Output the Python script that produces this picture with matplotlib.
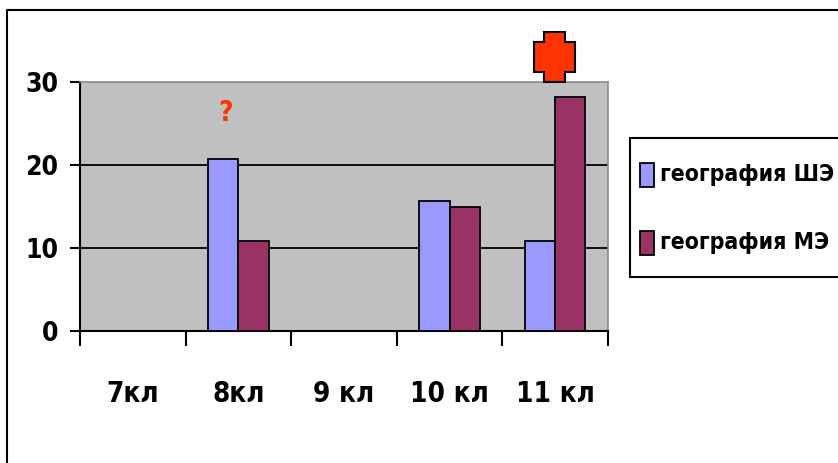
import matplotlib
matplotlib.use("Agg")
import matplotlib.pyplot as plt
from matplotlib.patches import Polygon, Rectangle
from matplotlib.lines import Line2D
import numpy as np

categories = ["7кл", "8кл", "9 кл", "10 кл", "11 кл"]
series_names = ["география ШЭ", "география МЭ"]
values_she = [0, 20.7, 0, 15.7, 10.9]
values_me = [0, 10.9, 0, 14.9, 28.2]
colors = ["#9999FF", "#993366"]
yticks = [0, 10, 20, 30]

W, H = 838, 463
fig = plt.figure(figsize=(W / 100, H / 100), dpi=100)
fam = ["DejaVu Sans Condensed", "Liberation Sans Narrow", "DejaVu Sans"]
plt.rcParams["font.stretch"] = "condensed"

def fx(px):
    return px / W

def fy(py):
    return 1 - py / H

# Figure border (left and top visible)
fig.add_artist(Line2D([fx(7), fx(7), fx(838)], [fy(463), fy(10), fy(10)],
                      transform=fig.transFigure, color="black", lw=1.5))

left, right, top, bottom = 80, 608, 82, 331
ax = fig.add_axes([fx(left), fy(bottom), fx(right - left), (bottom - top) / H])
ax.set_facecolor("#C0C0C0")
ax.set_xlim(0, len(categories))
ax.set_ylim(0, 30)

for s in ["top", "right"]:
    ax.spines[s].set_color("#8C8C8C")
    ax.spines[s].set_linewidth(1.2)
for s in ["left", "bottom"]:
    ax.spines[s].set_color("black")
    ax.spines[s].set_linewidth(1.5)

for yv in [10, 20]:
    ax.axhline(yv, color="black", lw=1.3, zorder=1)

x = np.arange(len(categories)) + 0.5
bw = 1 / 3.5
ax.bar(x - bw / 2, values_she, width=bw, color=colors[0], edgecolor="black",
       linewidth=1.3, zorder=3, label=series_names[0])
ax.bar(x + bw / 2, values_me, width=bw, color=colors[1], edgecolor="black",
       linewidth=1.3, zorder=3, label=series_names[1])

ax.set_yticks(yticks)
ax.set_yticklabels([str(v) for v in yticks], fontsize=19, fontweight="bold",
                   family=fam, fontstretch="condensed")
ax.tick_params(axis="y", direction="out", length=7, width=1.5, pad=8.5)

ax.set_xticks(np.arange(len(categories) + 1))
ax.set_xticklabels([])
ax.tick_params(axis="x", which="major", direction="out", length=11, width=1.5)
ax.set_xticks(x, minor=True)
ax.set_xticklabels(categories, minor=True, fontsize=20, fontweight="bold",
                   family=fam, fontstretch="condensed")
ax.tick_params(axis="x", which="minor", length=0, pad=35)

# Red question mark
fig.text(fx(225), fy(113), "?", color="#FF3300", fontsize=20,
         fontweight="bold", ha="center", va="center", family=fam)

# Red cross
x0, x1, x2, x3 = 534, 544, 565, 575
y0, y1, y2, y3 = 32, 42, 72, 82
pts = [(x1, y0), (x2, y0), (x2, y1), (x3, y1), (x3, y2), (x2, y2),
       (x2, y3), (x1, y3), (x1, y2), (x0, y2), (x0, y1), (x1, y1)]
fig.add_artist(Polygon([(fx(a), fy(b)) for a, b in pts], closed=True,
                       transform=fig.transFigure, facecolor="#FF3300",
                       edgecolor="black", lw=1.5))

# Legend box
fig.add_artist(Rectangle((fx(630), fy(277)), fx(838 - 630 + 10), (277 - 138) / H,
                         transform=fig.transFigure, facecolor="white",
                         edgecolor="black", lw=1.5))
for i, (name, c) in enumerate(zip(series_names, colors)):
    cy = [175, 243][i]
    fig.add_artist(Rectangle((fx(640), fy(cy + 12)), fx(14), 24 / H,
                             transform=fig.transFigure, facecolor=c,
                             edgecolor="black", lw=1.3))
    fig.text(fx(660), fy(cy), name, fontsize=16.5, fontweight="bold",
             ha="left", va="center", family=fam, fontstretch="condensed")

fig.savefig("out.png", dpi=100)
